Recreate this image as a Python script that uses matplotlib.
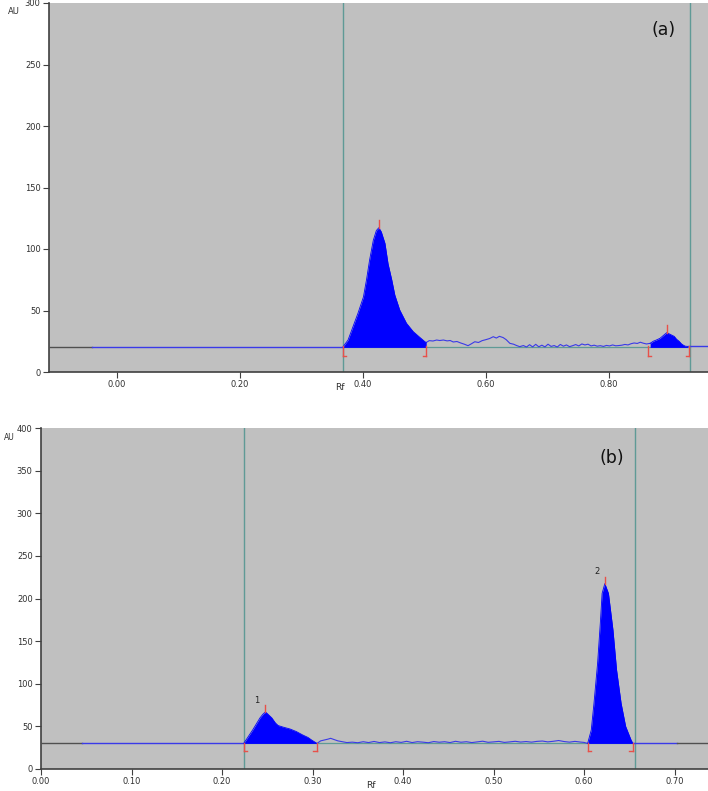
import matplotlib
matplotlib.use("Agg")
import matplotlib.pyplot as plt

# ---------------- data: panel (a) ----------------
a_base = 20
a_peak1_x = [0.368, 0.376, 0.384, 0.392, 0.401, 0.406, 0.411, 0.417, 0.422, 0.426, 0.430, 0.436,
             0.441, 0.447, 0.452, 0.460, 0.471, 0.482, 0.493, 0.501, 0.503]
a_peak1_y = [20.6, 26, 36.8, 47.6, 61, 75, 91, 107, 115, 117.3, 114, 104.6,
             88, 75, 62.6, 50.4, 39.6, 32.8, 28, 24.6, 24]
a_noise_x = [0.503, 0.508, 0.514, 0.520, 0.525, 0.531, 0.537, 0.542, 0.547, 0.553, 0.559, 0.565,
             0.571, 0.576, 0.582, 0.588, 0.594, 0.600, 0.606, 0.612, 0.617, 0.622, 0.628, 0.633,
             0.639, 0.645, 0.650, 0.655, 0.661, 0.666, 0.671, 0.676, 0.681, 0.686, 0.691, 0.696,
             0.701, 0.706, 0.711, 0.716, 0.721, 0.726, 0.731, 0.736, 0.741, 0.746, 0.751, 0.756,
             0.761, 0.766, 0.771, 0.776, 0.781, 0.786, 0.791, 0.796, 0.801, 0.806, 0.811, 0.816,
             0.821, 0.826, 0.831, 0.836, 0.841, 0.846, 0.851, 0.856, 0.861, 0.867]
a_noise_y = [24, 25.5, 25.2, 26, 25.6, 26, 25.3, 25.6, 24.4, 24.8, 23.6, 22.6,
             21.4, 22.8, 24.6, 24, 25.5, 26.3, 27.2, 28.7, 27.6, 29, 28, 26.3,
             23.3, 22.6, 21.5, 20.6, 21.5, 20.3, 22.2, 20.4, 22.5, 20.5, 21.8, 20.4,
             22.6, 20.8, 21.5, 20.3, 22.4, 21, 22, 20.6, 21.4, 22.3, 21.2, 22.8,
             22, 22.6, 21.2, 21.8, 21, 21.4, 20.8, 21.6, 21.2, 22, 21.3, 21.5,
             21.8, 22.4, 22, 23, 23.6, 23.2, 24.2, 23.4, 22.8, 23.3]
a_peak2_x = [0.867, 0.872, 0.877, 0.883, 0.888, 0.894, 0.898, 0.902, 0.906, 0.910, 0.914, 0.918,
             0.921, 0.924, 0.928]
a_peak2_y = [23.3, 25, 26, 27.4, 29.5, 32, 31, 30, 29, 26.6, 25, 22.8, 21.8, 21, 20.8]
a_tail_x = [0.928, 0.965]
a_tail_y = [20.8, 20.8]
a_lead_gray = [-0.11, -0.04]
a_lead_blue = [-0.04, 0.368]
a_marks = [0.367, 0.932]
a_peak_tops = [(0.426, 117.3), (0.894, 32)]
a_bounds = [(0.368, 'start'), (0.503, 'end'), (0.864, 'start'), (0.930, 'end')]
a_xticks = [0.0, 0.2, 0.4, 0.6, 0.8]
a_xlabels = ["0.00", "0.20", "0.40", "0.60", "0.80"]
a_yticks = [0, 50, 100, 150, 200, 250, 300]

# ---------------- data: panel (b) ----------------
b_base = 30
b_peak1_x = [0.224, 0.229, 0.234, 0.238, 0.242, 0.245, 0.248, 0.251, 0.255, 0.259, 0.262, 0.268,
             0.275, 0.282, 0.289, 0.295, 0.299, 0.305]
b_peak1_y = [30, 38, 46, 53, 60, 64, 67, 64, 60, 54, 51, 49, 47, 44, 40, 37, 34, 30]
b_noise_x = [0.305, 0.309, 0.313, 0.317, 0.320, 0.324, 0.328, 0.333, 0.338, 0.344, 0.350, 0.356,
             0.362, 0.368, 0.374, 0.380, 0.386, 0.392, 0.398, 0.404, 0.410, 0.416, 0.422, 0.428,
             0.434, 0.440, 0.446, 0.452, 0.458, 0.464, 0.470, 0.476, 0.482, 0.488, 0.494, 0.500,
             0.506, 0.512, 0.518, 0.524, 0.530, 0.536, 0.542, 0.548, 0.554, 0.560, 0.566, 0.572,
             0.578, 0.584, 0.590, 0.596, 0.600, 0.604]
b_noise_y = [30, 33, 34, 35, 36, 34.5, 33, 32, 31, 31.5, 30.8, 32, 31, 32.3, 31, 31.8, 30.8, 32,
             31.2, 32.5, 31, 32, 31.5, 30.8, 32.2, 31.4, 32, 31, 32.5, 31.4, 32, 31, 31.8, 32.6,
             31.3, 31.8, 32.4, 31.2, 31.8, 32.5, 31.6, 32.2, 31.5, 32.4, 32.8, 31.8, 32.5, 33.4,
             32.2, 31.5, 32.4, 31.6, 31.2, 30]
b_peak2_x = [0.604, 0.608, 0.611, 0.615, 0.618, 0.620, 0.623, 0.627, 0.632, 0.636, 0.641, 0.646,
             0.652, 0.654]
b_peak2_y = [30, 45.7, 77, 124, 171, 206, 217.5, 206, 163, 116, 77, 50, 34, 30]
b_tail_blue = [0.654, 0.703]
b_tail_gray = [0.703, 0.74]
b_lead_gray = [0.0, 0.045]
b_lead_blue = [0.045, 0.224]
b_marks = [0.224, 0.656]
b_peak_tops = [(0.248, 67), (0.623, 217.5)]
b_bounds = [(0.224, 'start'), (0.305, 'end'), (0.604, 'start'), (0.654, 'end')]
b_peak_names = [("1", 0.238, 80), ("2", 0.614, 232)]
b_xticks = [0.0, 0.1, 0.2, 0.3, 0.4, 0.5, 0.6, 0.7]
b_xlabels = ["0.00", "0.10", "0.20", "0.30", "0.40", "0.50", "0.60", "0.70"]
b_yticks = [0, 50, 100, 150, 200, 250, 300, 350, 400]

BG = "#c0c0c0"
BLUE = "#0000ff"
LINE_BLUE = "#3a3ae8"
TEAL = "#5f9a96"
RED = "#e8504a"
GRAY = "#505050"
AX = "#404040"

fig = plt.figure(figsize=(7.08, 7.91), dpi=100)
fig.patch.set_facecolor("white")


def style(ax, xlim, ylim, xticks, xlabels, yticks):
    ax.set_facecolor(BG)
    ax.set_xlim(*xlim)
    ax.set_ylim(*ylim)
    for s in ["top", "right"]:
        ax.spines[s].set_visible(False)
    for s in ["left", "bottom"]:
        ax.spines[s].set_color(AX)
        ax.spines[s].set_linewidth(1.2)
    ax.set_xticks(xticks)
    ax.set_xticklabels(xlabels)
    ax.set_yticks(yticks)
    ax.tick_params(direction="out", length=4, width=0.8, color=AX, labelsize=6,
                   labelcolor="#303030", pad=2)


def draw(ax, base, peaks, noise, lead_gray, lead_blue, marks, tops, bounds, tick_h, brk_h, brk_w):
    ax.plot(lead_gray, [base, base], color=GRAY, lw=1.0, zorder=3)
    ax.plot(lead_blue, [base, base], color=LINE_BLUE, lw=1.0, zorder=3)
    ax.plot([marks[0], marks[1]], [base, base], color=TEAL, lw=0.9, zorder=2)
    for (px, py) in peaks:
        ax.fill_between(px, base, py, color=BLUE, lw=0, zorder=4)
        ax.plot(px, py, color=BLUE, lw=0.6, zorder=4)
    nx, ny = noise
    ax.plot(nx, ny, color=LINE_BLUE, lw=0.8, zorder=3)
    for m in marks:
        ax.axvline(m, color=TEAL, lw=1.0, zorder=1)
    for (tx, ty) in tops:
        ax.plot([tx, tx], [ty, ty + tick_h], color=RED, lw=1.0, zorder=5)
    for (bx, kind) in bounds:
        ax.plot([bx, bx], [base + 1, base - brk_h], color=RED, lw=1.0, zorder=5)
        d = brk_w if kind == "start" else -brk_w
        ax.plot([bx, bx + d], [base - brk_h, base - brk_h], color=RED, lw=1.0, zorder=5)


# Panel (a)
axa = fig.add_axes([49 / 708, 1 - 372 / 791, 1 - 49 / 708, (372 - 3) / 791])
style(axa, (-0.11, 0.961), (0, 300), a_xticks, a_xlabels, a_yticks)
draw(axa, a_base, [(a_peak1_x, a_peak1_y), (a_peak2_x, a_peak2_y)], (a_noise_x, a_noise_y),
     a_lead_gray, a_lead_blue, a_marks, a_peak_tops, a_bounds, 6, 7, 0.005)
axa.plot(a_tail_x, a_tail_y, color=LINE_BLUE, lw=1.0, zorder=3)
axa.text(0.888, 278, "(a)", fontsize=12.5, ha="center", va="center", color="#111111")
fig.text(8 / 708, 1 - 12 / 791, "AU", fontsize=6, color="#303030", va="center")
fig.text(335 / 708, 1 - 388 / 791, "Rf", fontsize=6.5, color="#303030", va="center")

# Panel (b)
axb = fig.add_axes([41 / 708, 1 - 769 / 791, 1 - 41 / 708, (769 - 428) / 791])
style(axb, (0.0, 0.737), (0, 400), b_xticks, b_xlabels, b_yticks)
draw(axb, b_base, [(b_peak1_x, b_peak1_y), (b_peak2_x, b_peak2_y)], (b_noise_x, b_noise_y),
     b_lead_gray, b_lead_blue, b_marks, b_peak_tops, b_bounds, 8, 9, 0.004)
axb.plot(b_tail_blue, [b_base, b_base], color=LINE_BLUE, lw=1.0, zorder=3)
axb.plot(b_tail_gray, [b_base, b_base], color=GRAY, lw=1.0, zorder=3)
for (name, nx_, ny_) in b_peak_names:
    axb.text(nx_, ny_, name, fontsize=6, ha="center", va="center", color="#222222")
axb.text(0.631, 365, "(b)", fontsize=12.5, ha="center", va="center", color="#111111")
fig.text(4 / 708, 1 - 437 / 791, "AU", fontsize=5.5, color="#303030", va="center")
fig.text(366 / 708, 1 - 786 / 791, "Rf", fontsize=6.5, color="#303030", va="center")

fig.savefig("out.png", dpi=100, facecolor="white")
